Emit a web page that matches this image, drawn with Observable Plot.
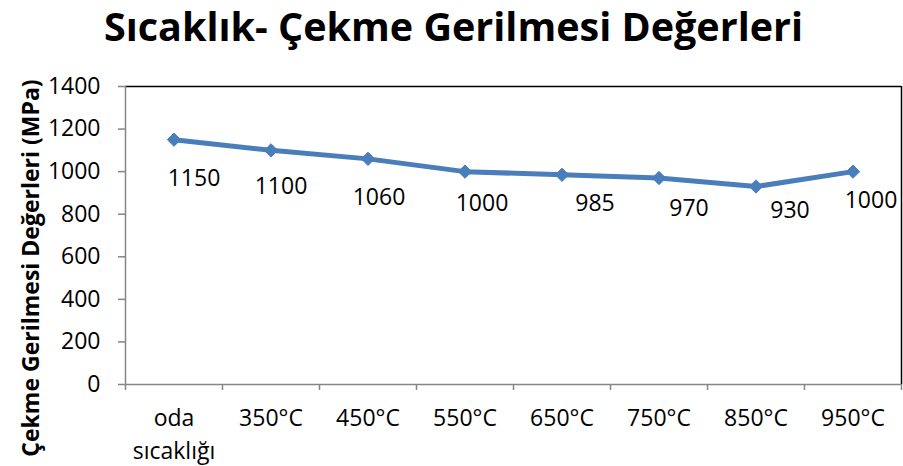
<!DOCTYPE html>
<html>
<head>
<meta charset="utf-8">
<script src="https://cdn.jsdelivr.net/npm/d3@7"></script>
<script src="https://cdn.jsdelivr.net/npm/@observablehq/plot@0.6"></script>
<style>
  html, body { margin: 0; padding: 0; background: #fff; }
  #wrap { position: relative; width: 903px; height: 466px; overflow: hidden; font-family: "Open Sans", sans-serif; }
  #title { height: 60px; line-height: 52px; text-align: center; font-weight: bold; font-size: 39.5px; color: #000; padding-left: 4px; }
  #ytitle { position: absolute; left: 30px; top: 268px; transform: translate(-50%, -50%) rotate(-90deg); white-space: nowrap; font-weight: bold; font-size: 23px; color: #000; }
</style>
</head>
<body>
<div id="wrap">
  <div id="title">Sıcaklık- Çekme Gerilmesi Değerleri</div>
  <div id="ytitle">Çekme Gerilmesi Değerleri (MPa)</div>
  <div id="chart"></div>
</div>
<script>
const categories = ["oda sıcaklığı", "350°C", "450°C", "550°C", "650°C", "750°C", "850°C", "950°C"];
const values = [1150, 1100, 1060, 1000, 985, 970, 930, 1000];
const yTicks = [0, 200, 400, 600, 800, 1000, 1200, 1400];
// per-label pixel nudges (style), [dx, dy]
const labelNudges = [[20, 39], [10, 36], [11, 39], [17, 32], [33, 29], [30, 31], [34, 24], [18, 29]];

const data = categories.map((c, i) => ({ c, i, v: values[i] }));
const xc = d => d.i + 0.5;
const blue = "#4A7EBB";
const gray = "#868686";

const chart = Plot.plot({
  width: 903,
  height: 406,
  marginTop: 26,
  marginBottom: 82,
  marginLeft: 125,
  marginRight: 2,
  style: { fontFamily: "Open Sans, sans-serif", color: "#000", background: "#fff" },
  x: { type: "linear", domain: [0, categories.length], axis: null },
  y: { domain: [0, 1400], axis: null },
  marks: [
    Plot.axisY({ ticks: yTicks, tickFormat: d => String(d), tickSize: 7, tickPadding: 18, stroke: gray, fill: "#000", fontSize: 23, label: null, strokeWidth: 1.5 }),
    Plot.axisX({ ticks: d3.range(0, categories.length + 1), tickFormat: () => "", tickSize: 6, stroke: gray, strokeWidth: 1.5, label: null }),
    Plot.ruleY([1400], { stroke: "#000", strokeWidth: 1.5 }),
    Plot.ruleX([categories.length], { stroke: "#000", strokeWidth: 1.5 }),
    Plot.ruleX([0], { stroke: gray, strokeWidth: 1.5 }),
    Plot.ruleY([0], { stroke: gray, strokeWidth: 1.5 }),
    Plot.text(data, { x: xc, y: () => 0, text: "c", lineAnchor: "top", dy: 19, lineWidth: 5, lineHeight: 1.4, fontSize: 23, fill: "#000" }),
    Plot.line(data, { x: xc, y: "v", stroke: blue, strokeWidth: 5 }),
    Plot.dot(data, { x: xc, y: "v", symbol: "diamond2", r: 6, fill: blue, stroke: blue, strokeWidth: 1 }),
    ...labelNudges.map(([dx, dy], i) =>
      Plot.text([data[i]], { x: xc, y: "v", text: d => String(d.v), dx, dy, fontSize: 23, fill: "#000" })
    )
  ]
});
document.getElementById("chart").appendChild(chart);
</script>
</body>
</html>
